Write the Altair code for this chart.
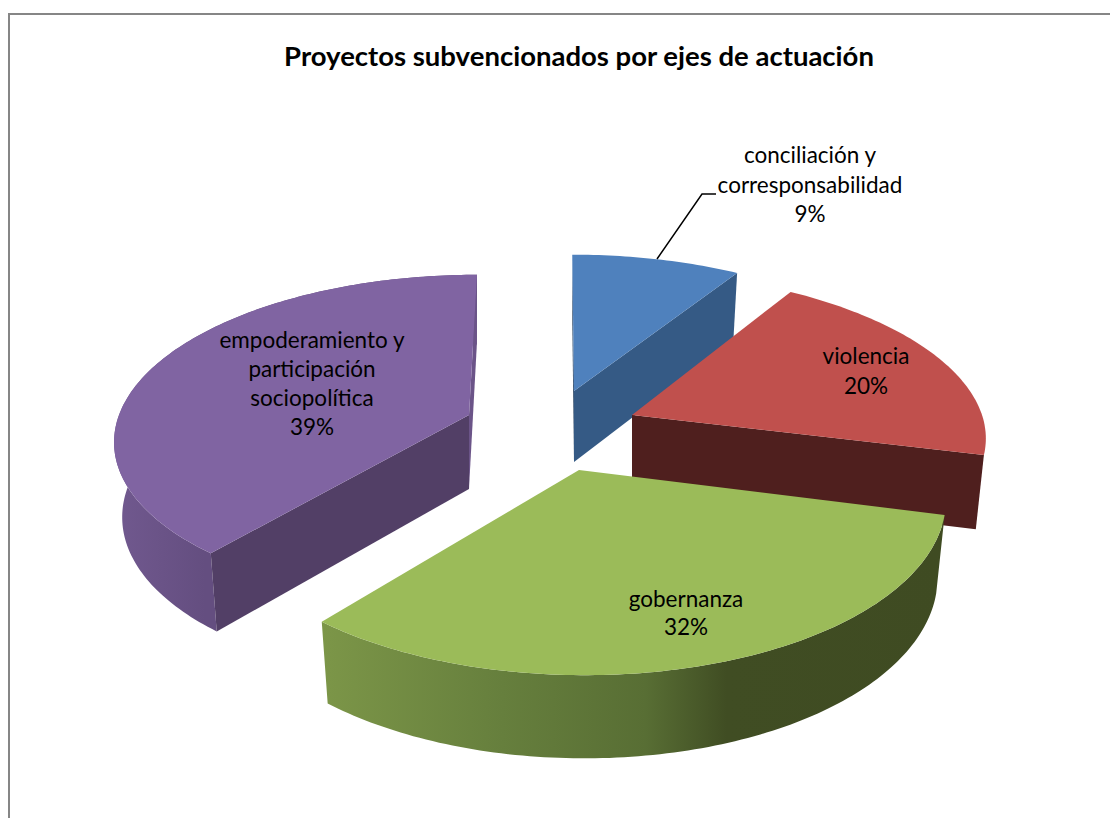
import math
import altair as alt
import pandas as pd

TITLE = "Proyectos subvencionados por ejes de actuación"
label_lines = [
    ["conciliación y", "corresponsabilidad"],
    ["violencia"],
    ["gobernanza"],
    ["empoderamiento y", "participación", "sociopolítica"],
]
shares = [9, 20, 32, 39]

# display geometry of the exploded 3-D pie (page pixels)
apex = [(574, 391), (632, 415), (579, 470), (469, 415)]
depth = [71, 73, 77, 74]
label_pos = [(810, 156), (866, 357), (686, 600), (312, 341)]
LINE_H = [29.5, 30, 28, 29]
top_col = ["#4f81bd", "#c0504d", "#9bbb59", "#8064a2"]
# per-slice projection: half-width, half-depth, perspective strength, lateral shift
proj_a = [356, 350, 362, 350]
proj_b = [162, 157, 174, 160]
proj_k = [0.188, 0.091, 0.152, 0.141]
proj_s = [11, 218, 31, -65]
FONT = "Lato"

W, H = 1102, 810
xs = alt.Scale(domain=[8, 1110], range=[0, W], nice=False, zero=False)
ys = alt.Scale(domain=[8, 818], range=[0, H], nice=False, zero=False)


def rim(i, frac):
    phi = 2 * math.pi * frac
    u, v = math.sin(phi), -math.cos(phi)
    den = 1 - proj_k[i] * v
    X = proj_a[i] * u / den + proj_s[i] * (1 / den - 1)
    Y = proj_b[i] * v / den
    return X, Y


def low(i, p):
    return p[0] * 0.977, p[1] * 1.03 + depth[i]


def at(i, p):
    return apex[i][0] + p[0], apex[i][1] + p[1]


def arc(i, f0, f1):
    n = max(2, int(abs(f1 - f0) * 360))
    return [rim(i, f0 + (f1 - f0) * j / n) for j in range(n + 1)]


def poly(points, fill):
    df = pd.DataFrame({"x": [p[0] for p in points], "y": [p[1] for p in points],
                       "i": list(range(len(points)))})
    return alt.Chart(df).mark_line(interpolate="linear-closed", fill=fill, strokeWidth=0).encode(
        x=alt.X("x:Q", scale=xs, axis=None),
        y=alt.Y("y:Q", scale=ys, axis=None),
        order="i:Q",
    )


def grad(stops):
    return alt.LinearGradient(
        gradient="linear", x1=0, y1=0, x2=1, y2=0,
        stops=[alt.GradientStop(offset=o, color=c) for o, c in stops],
    )


def top_face(i, f0, f1):
    return [at(i, (0, 0))] + [at(i, p) for p in arc(i, f0, f1)]


def cut_face(i, f):
    p = rim(i, f)
    return [at(i, (0, 0)), at(i, p), at(i, low(i, p)), at(i, low(i, (0, 0)))]


def rim_face(i, f0, f1):
    a = arc(i, f0, f1)
    return [at(i, p) for p in a] + [at(i, low(i, p)) for p in reversed(a)]


edges = [0]
for s in shares:
    edges.append(edges[-1] + s / 100)

layers = []
# purple
layers += [
    poly(rim_face(3, edges[3], edges[4]),
         grad([(0, "#71598f"), (0.25, "#644e80"), (1, "#644e80")])),
    poly(cut_face(3, edges[4]), "#6b5488"),
    poly(cut_face(3, edges[3]), "#523f66"),
    poly(top_face(3, edges[3], edges[4]), top_col[3]),
]
# blue
layers += [
    poly(cut_face(0, edges[0]), "#2a4565"),
    poly(cut_face(0, edges[1]), "#355a85"),
    poly(top_face(0, edges[0], edges[1]), top_col[0]),
]
# red
layers += [
    poly(cut_face(1, edges[2]), "#4f1f1e"),
    poly(top_face(1, edges[1], edges[2]), top_col[1]),
]
# green
layers += [
    poly(rim_face(2, edges[2], edges[3]),
         grad([(0, "#7c9648"), (0.29, "#667f3d"), (0.52, "#586e34"),
               (0.65, "#404d23"), (1, "#3f4b22")])),
    poly(top_face(2, edges[2], edges[3]), top_col[2]),
]

# frame
frame_h = pd.DataFrame({"x": [8], "x2": [1110], "y": [14]})
frame_v = pd.DataFrame({"x": [9], "y": [13], "y2": [818]})
layers += [
    alt.Chart(frame_h).mark_rule(color="#868686", strokeWidth=2).encode(
        x=alt.X("x:Q", scale=xs, axis=None), x2="x2:Q", y=alt.Y("y:Q", scale=ys, axis=None)),
    alt.Chart(frame_v).mark_rule(color="#868686", strokeWidth=2).encode(
        x=alt.X("x:Q", scale=xs, axis=None), y=alt.Y("y:Q", scale=ys, axis=None), y2="y2:Q"),
]

# leader line
leader_x = [657, 702, 716]
leader_y = [259, 194, 194]
layers.append(
    alt.Chart(pd.DataFrame({"x": leader_x, "y": leader_y, "i": [0, 1, 2]}))
    .mark_line(color="#000000", strokeWidth=1.5)
    .encode(x=alt.X("x:Q", scale=xs, axis=None), y=alt.Y("y:Q", scale=ys, axis=None), order="i:Q")
)

# labels
rows = []
for lines, pos, s, lh in zip(label_lines, label_pos, shares, LINE_H):
    for j, t in enumerate(lines + [f"{s}%"]):
        rows.append({"x": pos[0], "y": pos[1] + j * lh, "t": t})
layers.append(
    alt.Chart(pd.DataFrame(rows))
    .mark_text(font=FONT, fontSize=22.5, color="#000000", align="center", baseline="middle")
    .encode(x=alt.X("x:Q", scale=xs, axis=None), y=alt.Y("y:Q", scale=ys, axis=None), text="t:N")
)
layers.append(
    alt.Chart(pd.DataFrame({"x": [579], "y": [58], "t": [TITLE]}))
    .mark_text(font=FONT, fontSize=27.5, fontWeight="bold", color="#000000", align="center", baseline="middle")
    .encode(x=alt.X("x:Q", scale=xs, axis=None), y=alt.Y("y:Q", scale=ys, axis=None), text="t:N")
)

chart = (
    alt.layer(*layers)
    .properties(width=W, height=H, padding=0, autosize=alt.AutoSizeParams(type="none"))
    .configure_view(stroke=None)
)
chart.save("out.html", embed_options={"renderer": "svg", "actions": False})
